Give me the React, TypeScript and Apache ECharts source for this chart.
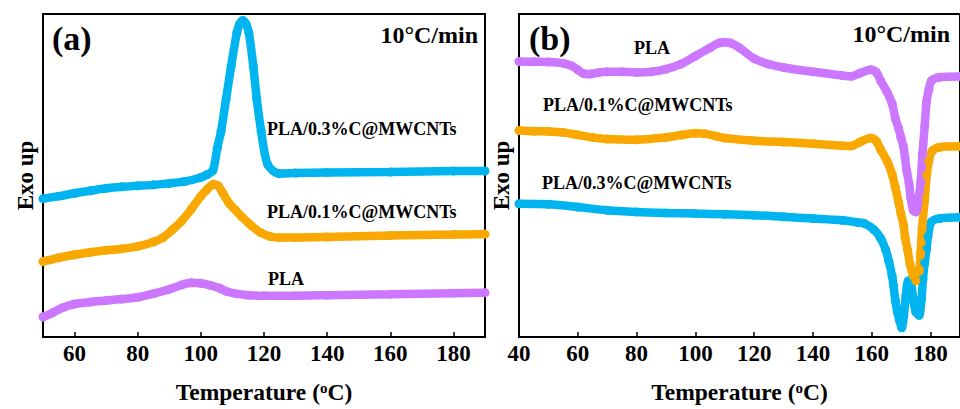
import React, { useEffect, useRef } from "react";
import * as echarts from "echarts";

// ---------- data (y in arbitrary units, 0..100) ----------
// Panel (a)
const aPlaT = [50, 53, 56, 60, 65, 70, 75, 80, 85, 90, 94, 97, 100, 103, 106, 108, 111, 115, 120, 130, 140, 160, 180, 190];
const aPlaV = [6.19, 7.47, 9.0, 10.21, 10.82, 11.28, 11.74, 12.29, 13.41, 14.79, 16.16, 16.77, 16.62, 16.0, 15.09, 14.18, 13.41, 12.96, 12.8, 12.8, 12.96, 13.26, 13.57, 13.72];

const a01T = [50, 55, 60, 65, 70, 75, 80, 85, 88, 91, 94, 97, 100, 102, 104, 105.5, 107, 109, 111, 113, 116, 119, 122, 125, 130, 140, 160, 180, 190];
const a01V = [23.38, 24.54, 25.46, 26.22, 26.83, 27.29, 28.05, 29.42, 30.79, 33.23, 35.98, 39.63, 43.6, 45.73, 47.26, 46.8, 44.5, 41.3, 39.3, 37.2, 34.45, 32.3, 31.1, 30.8, 30.8, 30.95, 31.4, 31.7, 31.86];

const a03T = [50, 55, 60, 65, 70, 75, 80, 85, 90, 95, 100, 102, 103.8, 105.2, 106.4, 108, 109.6, 111.4, 112.3, 113.3, 114.3, 115.2, 116.6, 117.7, 119.1, 121.2, 124.9, 130, 140, 160, 180, 190];
const a03V = [42.84, 43.6, 44.5, 45.27, 46.04, 46.5, 46.8, 47.1, 47.56, 48.17, 49.39, 50.3, 51.52, 58.5, 63.7, 73.8, 83.9, 94.2, 96.95, 98.0, 96.95, 94.2, 83.9, 73.8, 63.7, 53.35, 50.6, 50.76, 50.9, 51.07, 51.37, 51.43];

// Panel (b)
const bPlaT = [40, 45, 50, 55, 58, 60, 62, 64, 67, 70, 75, 80, 85, 90, 95, 100, 105, 108, 110, 112, 115, 120, 125, 130, 140, 150, 153, 156, 159.6, 161.5, 163, 165.2, 166.9, 168, 169.1, 169.9, 170.8, 171.3, 171.9, 172.7, 173.2, 174.1, 175, 175.8, 176.6, 177.2, 178, 178.6, 179.4, 180.3, 183, 190];
const bPlaV = [85.27, 85.21, 85.15, 84.76, 83.93, 82.71, 81.55, 81.4, 81.86, 82.1, 82.1, 81.92, 82.1, 82.93, 84.45, 86.98, 89.54, 91.0, 91.25, 91.0, 89.54, 86.19, 84.45, 83.45, 82.1, 80.95, 80.7, 81.7, 82.71, 82.0, 79.36, 75.82, 72.26, 67.68, 64.63, 61.8, 58.84, 55.49, 51.43, 47.35, 43.29, 39.24, 38.72, 42.29, 47.87, 56.31, 65.33, 72.77, 76.62, 79.36, 80.4, 80.64];

const b01T = [40, 45, 50, 55, 60, 65, 70, 80, 90, 95, 100, 103, 107, 110, 120, 130, 140, 150, 153, 156, 159.6, 161.5, 163, 165.2, 166.9, 168, 169.1, 169.9, 170.8, 171.3, 172.2, 173, 174.1, 175, 176.1, 176.6, 177.1, 178, 178.7, 179.4, 180.5, 183, 190];
const b01V = [63.93, 63.72, 63.63, 63.32, 62.59, 61.8, 61.28, 61.07, 61.8, 62.5, 63.11, 62.96, 62.2, 61.59, 60.76, 60.37, 59.85, 59.24, 59.15, 60.37, 61.59, 60.67, 58.02, 54.48, 50.4, 46.34, 41.77, 38.2, 34.66, 30.88, 26.83, 22.47, 18.9, 17.38, 20.43, 26.0, 33.63, 42.47, 50.21, 54.48, 57.53, 58.75, 59.05];

const b03T = [40, 50, 60, 70, 80, 90, 100, 110, 120, 130, 140, 150, 155, 157.4, 160.8, 163, 164.7, 165.8, 166.9, 167.4, 168, 168.7, 169.4, 170.2, 170.9, 171.6, 172.4, 173.3, 174.1, 175, 176.1, 176.9, 177.4, 178, 178.6, 179.1, 180.3, 183, 190];
const b03V = [41.25, 41.07, 40.24, 39.24, 38.72, 38.41, 38.2, 38.02, 37.71, 37.2, 36.68, 36.13, 35.52, 35.15, 33.14, 30.58, 27.04, 23.48, 18.9, 15.85, 11.28, 7.71, 5.18, 2.84, 6.71, 12.8, 17.38, 16.86, 11.8, 7.71, 6.71, 11.8, 17.9, 22.96, 27.04, 31.1, 35.67, 36.68, 37.04];

const ticksA = [60, 80, 100, 120, 140, 160, 180];
const ticksB = [40, 60, 80, 100, 120, 140, 160, 180];

const seriesNames = ["PLA", "PLA/0.1%C@MWCNTs", "PLA/0.3%C@MWCNTs"];
const rateLabel = "10°C/min";
const panelLabels = ["(a)", "(b)"];

// ---------- styles ----------
const FONT = "'Times New Roman', 'Liberation Serif', serif";
const C_PLA = "#CC77FF";
const C_01 = "#F8A800";
const C_03 = "#00B4F0";

const zip = (t: number[], v: number[]) => t.map((x, i) => [x, v[i]]);

function makeSeries(name: string, t: number[], v: number[], color: string, idx: number) {
  return {
    name,
    type: "line",
    xAxisIndex: idx,
    yAxisIndex: idx,
    data: zip(t, v),
    smooth: 0.3,
    symbol: "circle",
    symbolSize: 9,
    showSymbol: true,
    showAllSymbol: true,
    lineStyle: { color, width: 8.5 },
    itemStyle: { color, borderColor: color, borderWidth: 0 },
    emphasis: { disabled: true },
  };
}

function xAxisFor(idx: number, min: number, max: number, ticks: number[]) {
  return {
    type: "value",
    gridIndex: idx,
    min,
    max,
    axisLine: { show: true, lineStyle: { color: "#000", width: 2 } },
    axisTick: { show: true, inside: true, length: 5, customValues: ticks, lineStyle: { color: "#000", width: 1.5 } },
    axisLabel: {
      customValues: ticks,
      margin: 5,
      color: "#000",
      fontSize: 23,
      fontWeight: "bold",
      fontFamily: FONT,
    },
    splitLine: { show: false },
    name: "Temperature ({sup|o}C)",
    nameLocation: "middle",
    nameGap: 43,
    nameTextStyle: {
      color: "#000",
      fontSize: 23.5,
      fontWeight: "bold",
      fontFamily: FONT,
      rich: {
        sup: { fontSize: 15, fontWeight: "bold", fontFamily: FONT, color: "#000", verticalAlign: "top" },
      },
    },
  };
}

function yAxisFor(idx: number) {
  return {
    type: "value",
    gridIndex: idx,
    min: 0,
    max: 100,
    axisLine: { show: true, lineStyle: { color: "#000", width: 2 } },
    axisTick: { show: false },
    axisLabel: { show: false },
    splitLine: { show: false },
    name: "Exo up",
    nameLocation: "middle",
    nameGap: 6,
    nameTextStyle: { color: "#000", fontSize: 23, fontWeight: "bold", fontFamily: FONT },
  };
}

function txt(text: string, x: number, y: number, size: number, align: string = "left") {
  return {
    type: "text",
    x,
    y,
    z: 100,
    style: {
      text,
      fill: "#000",
      fontSize: size,
      fontWeight: "bold",
      fontFamily: FONT,
      align,
      verticalAlign: "middle",
      textAlign: align,
      textVerticalAlign: "middle",
    },
  };
}

export default function App() {
  const ref = useRef<HTMLDivElement>(null);
  useEffect(() => {
    document.body.style.margin = "0";
    if (!ref.current) return;
    const chart = echarts.init(ref.current, undefined, { renderer: "svg" });
    chart.setOption({
      animation: false,
      backgroundColor: "#fff",
      grid: [
        { left: 43, top: 14, width: 442, height: 328, show: true, borderColor: "#000", borderWidth: 2, backgroundColor: "transparent" },
        { left: 519, top: 14, width: 449, height: 328, show: true, borderColor: "#000", borderWidth: 2, backgroundColor: "transparent" },
      ],
      xAxis: [xAxisFor(0, 50, 190, ticksA), xAxisFor(1, 40, 190, ticksB)],
      yAxis: [yAxisFor(0), yAxisFor(1)],
      series: [
        makeSeries(seriesNames[2], a03T, a03V, C_03, 0),
        makeSeries(seriesNames[1], a01T, a01V, C_01, 0),
        makeSeries(seriesNames[0], aPlaT, aPlaV, C_PLA, 0),
        makeSeries(seriesNames[2], b03T, b03V, C_03, 1),
        makeSeries(seriesNames[1], b01T, b01V, C_01, 1),
        makeSeries(seriesNames[0], bPlaT, bPlaV, C_PLA, 1),
      ],
      graphic: [
        txt(panelLabels[0], 52, 38, 34),
        txt(rateLabel, 478, 35, 24, "right"),
        txt(seriesNames[2], 267, 129, 18),
        txt(seriesNames[1], 267, 212, 18),
        txt(seriesNames[0], 268, 279, 18),
        txt(panelLabels[1], 529, 38, 34),
        txt(rateLabel, 950, 34, 24, "right"),
        txt(seriesNames[0], 634, 48, 18),
        txt(seriesNames[1], 543, 105, 18),
        txt(seriesNames[2], 542, 183, 18),
      ],
    });
    return () => chart.dispose();
  }, []);
  return <div ref={ref} style={{ position: "fixed", left: 0, top: 0, width: 960, height: 409 }} />;
}
